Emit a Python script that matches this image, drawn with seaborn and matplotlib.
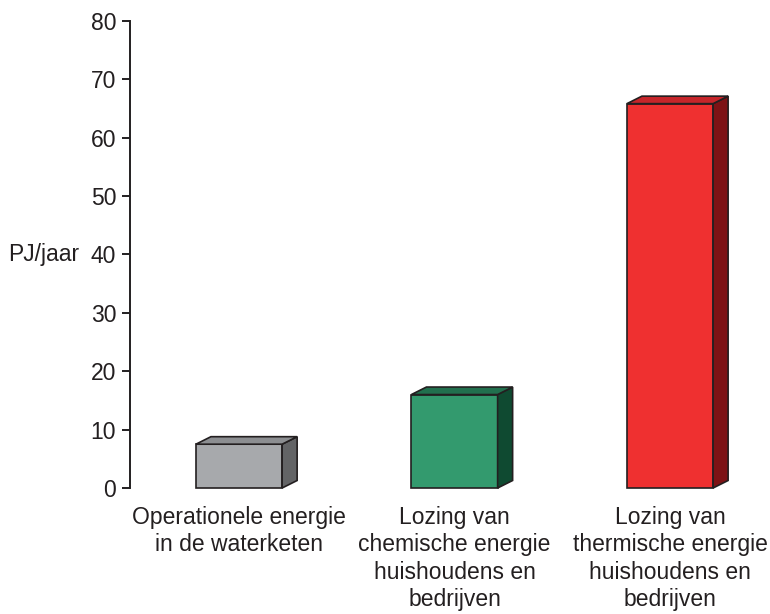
import matplotlib
matplotlib.use("Agg")
import matplotlib.pyplot as plt
from matplotlib.patches import Polygon
import seaborn as sns
import pandas as pd

# Chart data
categories = [
    "Operationele energie\nin de waterketen",
    "Lozing van\nchemische energie\nhuishoudens en\nbedrijven",
    "Lozing van\nthermische energie\nhuishoudens en\nbedrijven",
]
values = [7.5, 16.0, 65.8]
front_colors = ["#a7a9ac", "#339a6e", "#ef3030"]
top_colors = ["#8c8e91", "#21704e", "#c6252a"]
side_colors = ["#636466", "#0f4a31", "#7d1215"]

df = pd.DataFrame({"cat": categories, "val": values})

sns.set_style("white")
plt.rcParams["font.family"] = ["Liberation Sans", "DejaVu Sans"]
plt.rcParams["text.color"] = "#231f20"
plt.rcParams["xtick.color"] = "#231f20"
plt.rcParams["ytick.color"] = "#231f20"
plt.rcParams["axes.labelcolor"] = "#231f20"

fs = 16.5

fig = plt.figure(figsize=(7.7, 6.14), dpi=100)
ax = fig.add_axes([130 / 770, 126 / 614, 640 / 770, 467.3 / 614])

sns.barplot(data=df, x="cat", y="val", hue="cat", palette=front_colors,
            width=0.4, legend=False, ax=ax, edgecolor="#231f20", linewidth=1.2,
            saturation=1)

ax.set_xlim(-0.506, 2.464)
ax.set_ylim(0, 80)

# 3D depth: offset in data units (about 15 px right, 7.5 px up)
dx = 15 / 215.5
dy = 7.5 / 5.84
for bar, tc, sc in zip(ax.patches, top_colors, side_colors):
    x0 = bar.get_x()
    w = bar.get_width()
    h = bar.get_height()
    x1 = x0 + w
    top = Polygon([(x0, h), (x0 + dx, h + dy), (x1 + dx, h + dy), (x1, h)],
                  closed=True, facecolor=tc, edgecolor="#231f20", linewidth=1.2,
                  clip_on=False, zorder=bar.get_zorder())
    side = Polygon([(x1, 0), (x1 + dx, dy), (x1 + dx, h + dy), (x1, h)],
                   closed=True, facecolor=sc, edgecolor="#231f20", linewidth=1.2,
                   clip_on=False, zorder=bar.get_zorder())
    ax.add_patch(side)
    ax.add_patch(top)
    bar.set_clip_on(False)

ax.set_yticks(range(0, 81, 10))
ax.tick_params(axis="y", length=6, width=1.4, pad=4,
               labelsize=fs, left=True)
ax.tick_params(axis="x", length=0, pad=13, labelsize=fs)
for lbl in ax.get_xticklabels():
    lbl.set_linespacing(1.24)
    lbl.set_va("top")

sns.despine(ax=ax, top=True, right=True, bottom=True)
ax.spines["left"].set_linewidth(1.4)
ax.spines["left"].set_color("#231f20")

ax.set_xlabel("")
ax.set_ylabel("PJ/jaar", rotation=0, ha="right", va="center", fontsize=fs)
ax.yaxis.set_label_coords(-0.08, 0.5)

fig.savefig("out.png", dpi=100)
